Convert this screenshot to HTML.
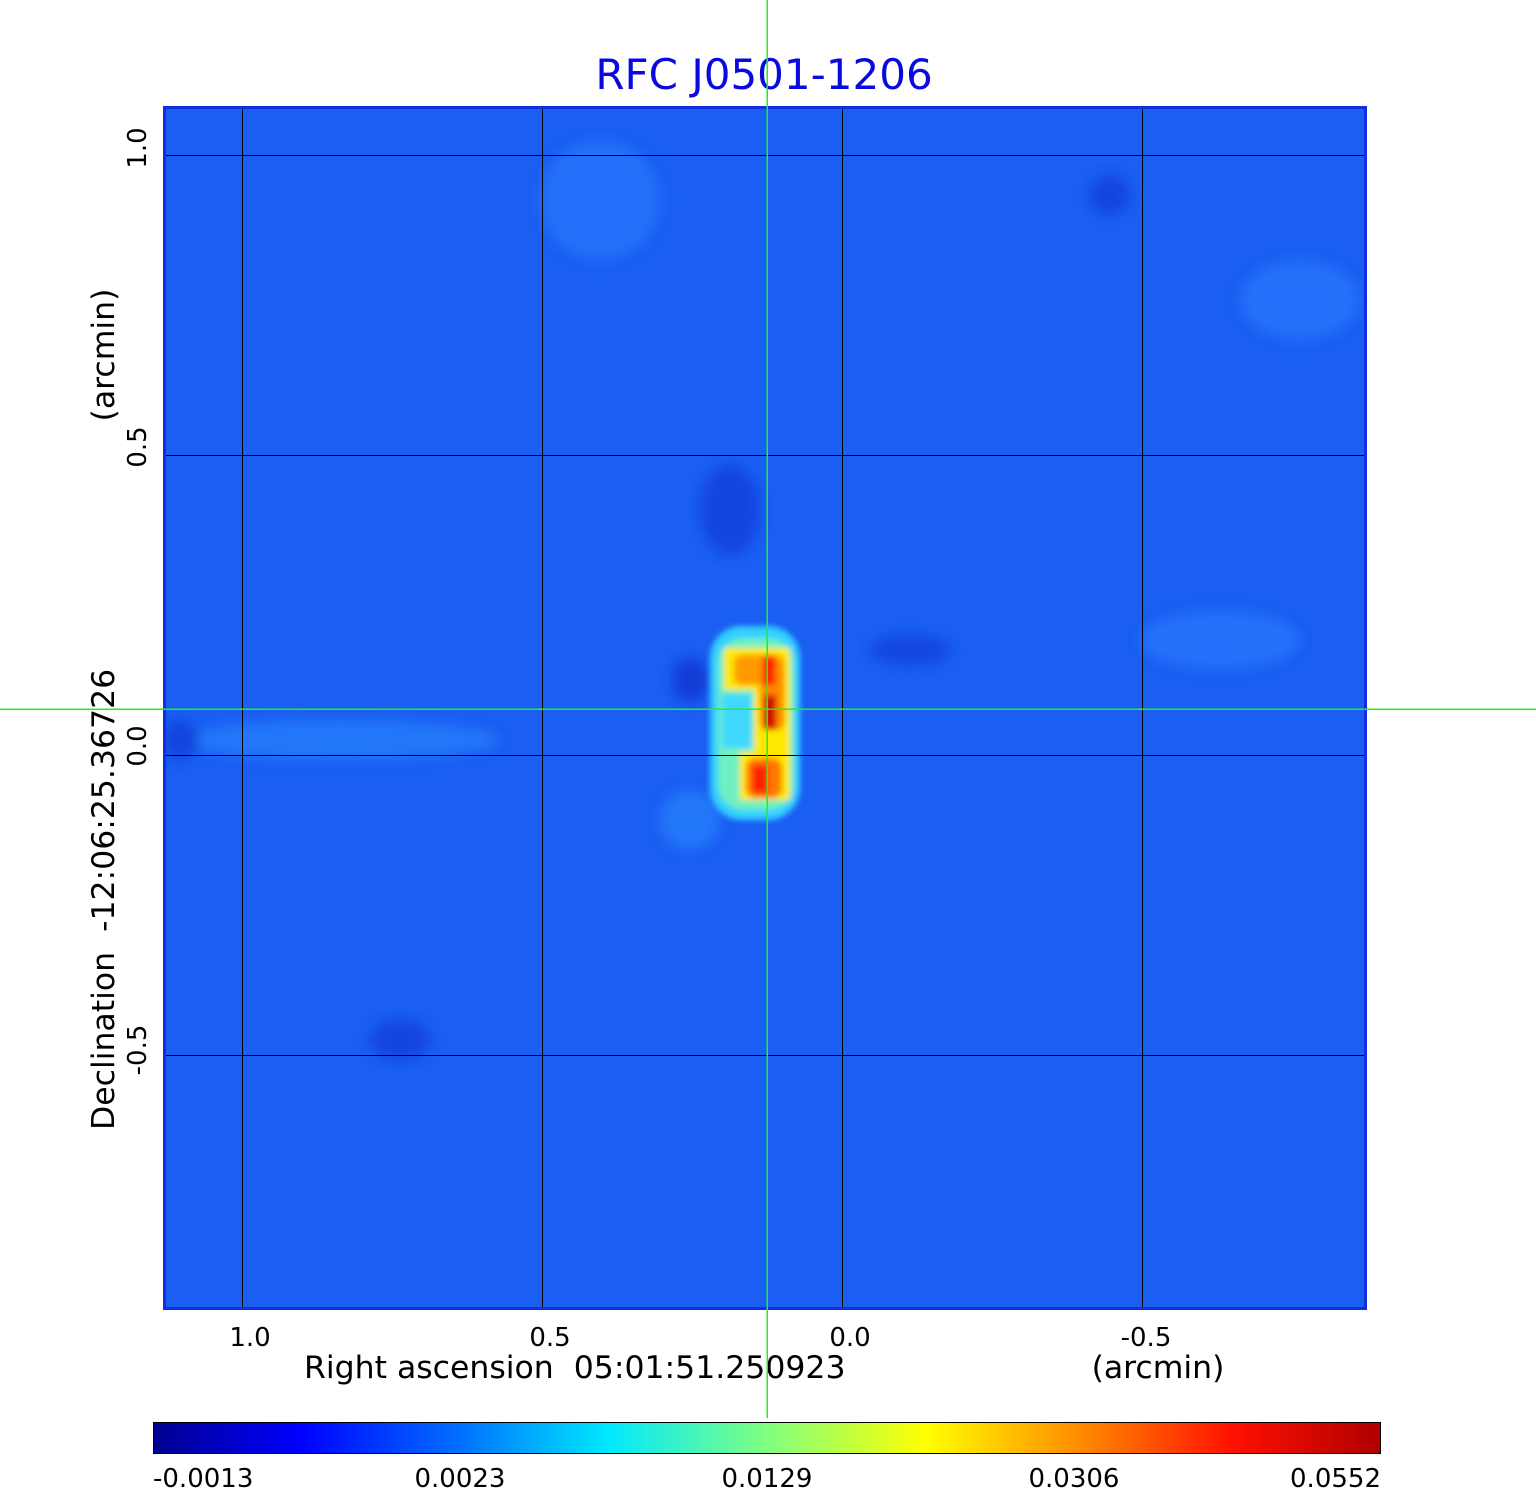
<!DOCTYPE html>
<html><head><style>
html,body{margin:0;padding:0;background:#fff;}
svg{display:block;}
text{font-family:"DejaVu Sans","Liberation Sans",sans-serif;white-space:pre;}
</style></head><body>
<svg width="1536" height="1511" viewBox="0 0 1536 1511" xmlns="http://www.w3.org/2000/svg" xml:space="preserve">
<defs>
<linearGradient id="jet" x1="0" x2="1" y1="0" y2="0">
<stop offset="0" stop-color="#00008f"/>
<stop offset="0.12" stop-color="#0000ff"/>
<stop offset="0.25" stop-color="#0070ff"/>
<stop offset="0.37" stop-color="#00e8ff"/>
<stop offset="0.5" stop-color="#80ff80"/>
<stop offset="0.63" stop-color="#ffff00"/>
<stop offset="0.75" stop-color="#ff9000"/>
<stop offset="0.88" stop-color="#ff1000"/>
<stop offset="1" stop-color="#b00000"/>
</linearGradient>
<filter id="bl" x="-50%" y="-50%" width="200%" height="200%"><feGaussianBlur stdDeviation="6"/></filter>
<filter id="bl2" x="-50%" y="-50%" width="200%" height="200%"><feGaussianBlur stdDeviation="3"/></filter>
<clipPath id="cp"><rect x="164" y="107" width="1202" height="1202"/></clipPath>
</defs>
<text x="764" y="89" font-size="42" fill="#0a0adf" text-anchor="middle">RFC J0501-1206</text>
<g clip-path="url(#cp)">
<rect x="164" y="107" width="1202" height="1202" fill="#1a5ef2"/>
<g filter="url(#bl)" opacity="0.55">
<ellipse cx="730" cy="510" rx="30" ry="45" fill="#0a30d0"/>
<ellipse cx="690" cy="680" rx="18" ry="22" fill="#0820c0"/>
<ellipse cx="910" cy="650" rx="40" ry="15" fill="#0a35d0"/>
<ellipse cx="340" cy="740" rx="160" ry="20" fill="#2a8cff"/>
<ellipse cx="690" cy="820" rx="30" ry="30" fill="#2a8cff"/>
<ellipse cx="600" cy="200" rx="60" ry="60" fill="#2a80ff"/>
<ellipse cx="1300" cy="300" rx="60" ry="40" fill="#2a80ff"/>
<ellipse cx="1220" cy="640" rx="80" ry="30" fill="#2a80ff"/>
<ellipse cx="1110" cy="195" rx="20" ry="20" fill="#0a30d0"/>
<ellipse cx="400" cy="1040" rx="30" ry="20" fill="#0a30d0"/>
<ellipse cx="180" cy="740" rx="20" ry="20" fill="#0a30d0"/>
</g>
<g filter="url(#bl2)">
<rect x="710" y="626" width="90" height="194" rx="32" fill="#30d0ff"/>
<rect x="718" y="638" width="76" height="172" rx="26" fill="#70f0c0"/>
<rect x="722" y="694" width="30" height="54" fill="#40d8ff"/>
<path d="M724,648 H790 V800 H740 V752 H754 V690 H724 Z" fill="#ffe800"/>
<rect x="734" y="655" width="50" height="30" rx="8" fill="#ff9a00"/>
<rect x="760" y="660" width="24" height="70" rx="8" fill="#ff8800"/>
<rect x="746" y="758" width="36" height="40" rx="10" fill="#ff7800"/>
<rect x="763" y="655" width="12" height="30" fill="#ff2000"/>
<rect x="764" y="695" width="12" height="35" fill="#d00000"/>
<rect x="752" y="765" width="16" height="28" fill="#ff2000"/>
</g>
<g stroke="#000" stroke-width="1" shape-rendering="crispEdges">
<line x1="242.5" y1="107" x2="242.5" y2="1309"/>
<line x1="542.5" y1="107" x2="542.5" y2="1309"/>
<line x1="842.5" y1="107" x2="842.5" y2="1309"/>
<line x1="1142.5" y1="107" x2="1142.5" y2="1309"/>
<line x1="164" y1="155.5" x2="1366" y2="155.5"/>
<line x1="164" y1="455.5" x2="1366" y2="455.5"/>
<line x1="164" y1="755.5" x2="1366" y2="755.5"/>
<line x1="164" y1="1055.5" x2="1366" y2="1055.5"/>
</g>
</g>
<rect x="164.5" y="107.5" width="1201" height="1201" fill="none" stroke="#1030e0" stroke-width="3"/>
<g font-size="26" fill="#000">
<text x="250" y="1346" text-anchor="middle">1.0</text>
<text x="550" y="1346" text-anchor="middle">0.5</text>
<text x="850" y="1346" text-anchor="middle">0.0</text>
<text x="1146" y="1346" text-anchor="middle">-0.5</text>
<text x="304" y="1378" font-size="31.5">Right ascension  05:01:51.250923</text>
<text x="1158" y="1378" font-size="31.5" text-anchor="middle">(arcmin)</text>
<g transform="translate(146,0)">
<text transform="translate(0,148) rotate(-90)" text-anchor="middle">1.0</text>
<text transform="translate(0,447) rotate(-90)" text-anchor="middle">0.5</text>
<text transform="translate(0,746) rotate(-90)" text-anchor="middle">0.0</text>
<text transform="translate(0,1050) rotate(-90)" text-anchor="middle">-0.5</text>
</g>
<text transform="translate(114,355) rotate(-90)" font-size="31.5" text-anchor="middle">(arcmin)</text>
<text transform="translate(114,1130) rotate(-90)" font-size="31.5">Declination  -12:06:25.36726</text>
</g>
<rect x="153.5" y="1422.5" width="1227" height="31" fill="url(#jet)" stroke="#000" stroke-width="1"/>
<g font-size="26" fill="#000">
<text x="153" y="1487">-0.0013</text>
<text x="460" y="1487" text-anchor="middle">0.0023</text>
<text x="767" y="1487" text-anchor="middle">0.0129</text>
<text x="1074" y="1487" text-anchor="middle">0.0306</text>
<text x="1381" y="1487" text-anchor="end">0.0552</text>
</g>
<rect x="766.5" y="0" width="1.5" height="1418" fill="#20f020"/>
<rect x="0" y="708.5" width="1536" height="1.5" fill="#20f020"/>
</svg>
</body></html>
